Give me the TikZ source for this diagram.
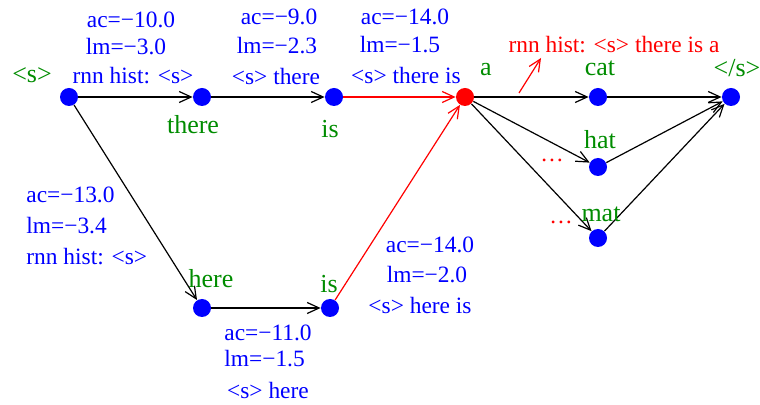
\documentclass[tikz,border=0pt]{standalone}
\usepackage{fontspec}
\setmainfont{Liberation Serif}
\usetikzlibrary{arrows.meta}
\definecolor{lblgreen}{RGB}{0,140,0}
\begin{document}
\begin{tikzpicture}[x=0.5pt,y=-0.5pt,
  dot/.style={circle,fill=blue,minimum size=9pt,inner sep=0pt},
  reddot/.style={dot,fill=red},
  blab/.style={text=blue,font=\fontsize{11.7}{14}\selectfont,inner sep=0pt},
  rlab/.style={text=red,font=\fontsize{11.7}{14}\selectfont,inner sep=0pt},
  glab/.style={text=lblgreen,font=\fontsize{13}{15}\selectfont,inner sep=0pt},
  edge/.style={line width=0.6pt,-{Straight Barb[length=6pt,width=5.5pt]}},
  redge/.style={edge,red}]
\useasboundingbox (0,0) rectangle (760,405);
% nodes
\node[dot] (s) at (69,97) {};
\node[dot] (there) at (202,97) {};
\node[dot] (is1) at (334,97) {};
\node[reddot] (a) at (465,97) {};
\node[dot] (cat) at (598,97) {};
\node[dot] (end) at (731,97) {};
\node[dot] (hat) at (598,167) {};
\node[dot] (mat) at (598,238) {};
\node[dot] (here) at (202,308) {};
\node[dot] (is2) at (330,308) {};
% edges
\draw[edge] (s) -- (there);
\draw[edge] (there) -- (is1);
\draw[redge] (is1) -- (a);
\draw[edge] (a) -- (cat);
\draw[edge] (cat) -- (end);
\draw[edge] (a) -- (hat);
\draw[edge] (a) -- (mat);
\draw[edge] (hat) -- (end);
\draw[edge] (mat) -- (end);
\draw[edge] (s) -- (here);
\draw[edge] (here) -- (is2);
\draw[redge] (is2) -- (a);
% annotation arrow
\coordinate (ra1) at (519,93);
\coordinate (ra2) at (541,58);
\draw[redge] (ra1) -- (ra2);
% green word labels
\node[glab] (ls) at (32,75) {<s>};
\node[glab] (lthere) at (193,125) {there};
\node[glab] (lis1) at (330,129) {is};
\node[glab] (la) at (486,70) {a};
\node[glab] (lcat) at (600,68) {cat};
\node[glab] (lend) at (737,68) {</s>};
\node[glab] (lhat) at (600,140) {hat};
\node[glab] (lmat) at (601,214) {mat};
\node[glab] (lhere) at (211,279) {here};
\node[glab] (lis2) at (329,284) {is};
% blue score labels
\node[blab] (b1a) at (131,20) {ac=−10.0};
\node[blab] (b1b) at (126,47) {lm=−3.0};
\node[blab] (b1c) at (133,76) {rnn hist: <s>};
\node[blab] (b2a) at (279,17) {ac=−9.0};
\node[blab] (b2b) at (277,46) {lm=−2.3};
\node[blab] (b2c) at (276,77) {<s> there};
\node[blab] (b3a) at (405,17) {ac=−14.0};
\node[blab] (b3b) at (400,45) {lm=−1.5};
\node[blab] (b3c) at (406,76) {<s> there is};
\node[blab,anchor=west] (b4a) at (26,195) {ac=−13.0};
\node[blab,anchor=west] (b4b) at (26,226) {lm=−3.4};
\node[blab,anchor=west] (b4c) at (26,257) {rnn hist: <s>};
\node[blab,anchor=west] (b5a) at (224,333) {ac=−11.0};
\node[blab,anchor=west] (b5b) at (224,359) {lm=−1.5};
\node[blab] (b5c) at (268,390) {<s> here};
\node[blab] (b6a) at (430,245) {ac=−14.0};
\node[blab] (b6b) at (427,275) {lm=−2.0};
\node[blab] (b6c) at (420,305) {<s> here is};
% red labels
\node[rlab] (rh) at (614,45) {rnn hist: <s> there is a};
\node[rlab] (d1) at (552,160) {\ldots};
\node[rlab] (d2) at (561,222) {\ldots};
\end{tikzpicture}
\end{document}
